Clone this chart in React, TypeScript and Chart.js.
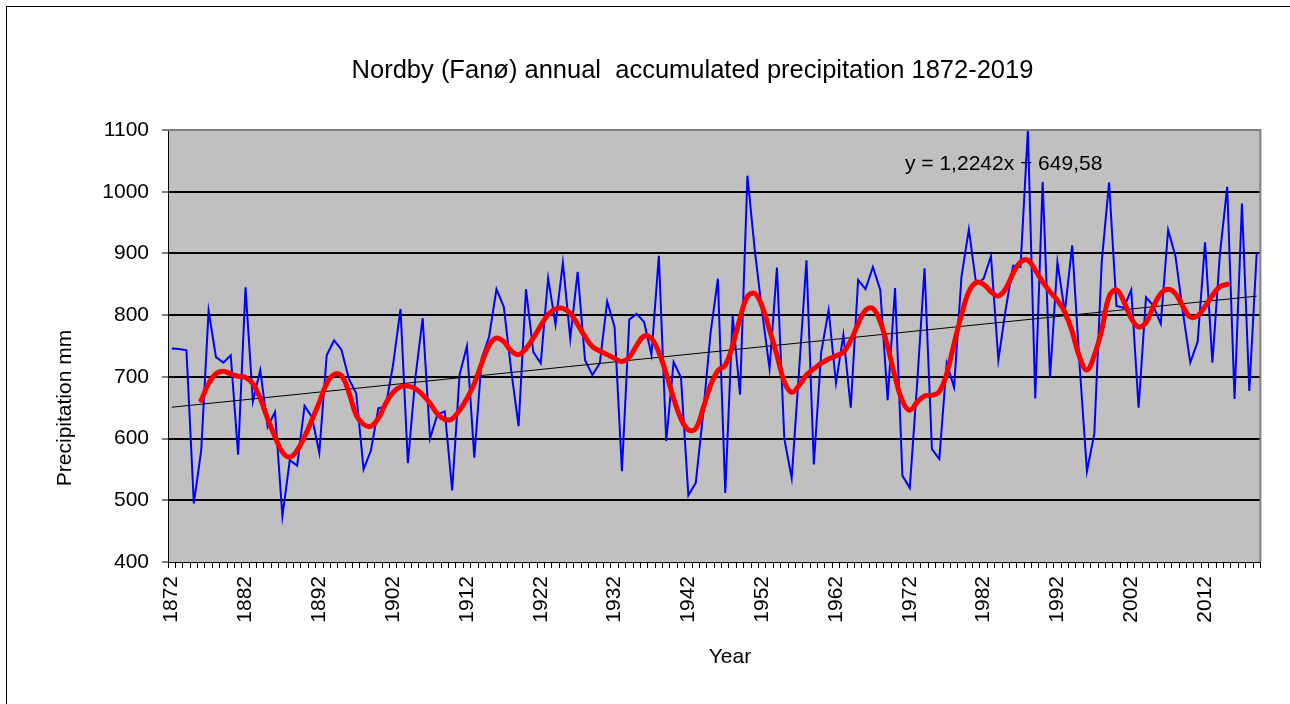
import React, { useEffect, useRef } from "react";
import { Chart, registerables } from "chart.js";

Chart.register(...registerables);

const startYear = 1872;
const yearCount = 148;
const years: string[] = Array.from({ length: yearCount }, (_, i) => String(startYear + i));

const chartTitle = "Nordby (Fanø) annual  accumulated precipitation 1872-2019";
const xAxisTitle = "Year";
const yAxisTitle = "Precipitation mm";
const trendLabel = "y = 1,2242x + 649,58";

// annual precipitation (mm), 1872..2019
const precipitation: number[] = [
  746, 745, 743, 495, 581, 807, 732, 723, 735, 574,
  845, 660, 711, 619, 643, 474, 565, 556, 653, 635,
  577, 735, 759, 744, 697, 673, 550, 581, 649, 652,
  720, 810, 560, 697, 795, 600, 639, 644, 516, 703,
  750, 569, 730, 765, 842, 813, 710, 620, 842, 740,
  722, 860, 785, 885, 762, 870, 727, 703, 722, 822,
  781, 547, 793, 802, 789, 736, 896, 596, 724, 699,
  508, 528, 640, 770, 859, 512, 799, 671, 1026, 905,
  805, 713, 877, 600, 536, 710, 889, 558, 740, 808,
  690, 768, 650, 857, 842, 878, 841, 662, 844, 540,
  520, 690, 876, 583, 567, 722, 683, 862, 939, 850,
  859, 896, 727, 810, 880, 878, 1100, 665, 1016, 699,
  886, 805, 913, 720, 547, 608, 886, 1015, 815, 812,
  841, 650, 829, 815, 786, 938, 895, 805, 723, 757,
  918, 723, 897, 1008, 664, 981, 677, 901,
];

// smoothed (moving average) curve, 1876..2015
const smoothed: number[] = [
  662, 689, 705, 709, 705, 701, 699, 689, 665, 632,
  603, 578, 570, 581, 603, 630, 659, 689, 704, 702,
  675, 638, 623, 620, 633, 657, 675, 684, 685, 681,
  671, 657, 640, 631, 632, 646, 665, 689, 722, 751,
  763, 757, 742, 736, 746, 763, 783, 801, 810, 811,
  803, 785, 765, 749, 742, 736, 730, 725, 732, 751,
  766, 762, 740, 705, 665, 632, 614, 616, 649, 686,
  710, 719, 751, 795, 830, 835, 814, 776, 735, 692,
  675, 686, 703, 713, 722, 729, 734, 740, 759, 786,
  808, 811, 789, 749, 700, 661, 646, 659, 669, 670,
  676, 705, 754, 800, 838, 853, 850, 838, 831, 843,
  868, 886, 889, 873, 854, 838, 824, 805, 773, 732,
  711, 735, 776, 830, 841, 822, 795, 781, 788, 814,
  835, 842, 835, 814, 797, 799, 814, 832, 846, 850,
];
const smoothedStartIndex = 4;

// linear trend end values (first and last year)
const trendStart = 650.8;
const trendEnd = 830.8;

const yMin = 400;
const yMax = 1100;
const yStep = 100;
const labelEvery = 10;

const FONT = "'Liberation Sans', Arial, sans-serif";

export default function App() {
  const ref = useRef<HTMLCanvasElement | null>(null);

  useEffect(() => {
    if (!ref.current) return;

    const smoothedData: (number | null)[] = years.map((_, i) => {
      const k = i - smoothedStartIndex;
      return k >= 0 && k < smoothed.length ? smoothed[k] : null;
    });
    const trendData: (number | null)[] = years.map((_, i) =>
      i === 0 ? trendStart : i === years.length - 1 ? trendEnd : null
    );

    const decor = {
      id: "decor",
      beforeDraw(chart: any) {
        const { ctx, chartArea: a } = chart;
        ctx.save();
        ctx.fillStyle = "#ffffff";
        ctx.fillRect(0, 0, chart.width, chart.height);
        ctx.fillStyle = "#C0C0C0";
        ctx.fillRect(a.left, a.top, a.right - a.left, a.bottom - a.top);
        ctx.strokeStyle = "#000";
        ctx.lineWidth = 1;
        ctx.strokeRect(6.5, 6.5, 1290, 720);
        ctx.fillStyle = "#000";
        ctx.font = `25.5px ${FONT}`;
        ctx.textAlign = "center";
        ctx.textBaseline = "alphabetic";
        ctx.fillText(chartTitle, 692.5, 78);
        ctx.font = `21px ${FONT}`;
        ctx.fillText(xAxisTitle, 730, 663);
        ctx.translate(71, 408);
        ctx.rotate(-Math.PI / 2);
        ctx.fillText(yAxisTitle, 0, 0);
        ctx.restore();
      },
      beforeDatasetsDraw(chart: any) {
        const { ctx } = chart;
        ctx.save();
        ctx.fillStyle = "#000";
        ctx.font = `21px ${FONT}`;
        ctx.textAlign = "left";
        ctx.textBaseline = "alphabetic";
        ctx.fillText(trendLabel, 905, 169.5);
        ctx.restore();
      },
      afterDraw(chart: any) {
        const { ctx, chartArea: a } = chart;
        ctx.save();
        ctx.strokeStyle = "#808080";
        ctx.lineWidth = 2;
        ctx.beginPath();
        ctx.moveTo(a.left, a.top);
        ctx.lineTo(a.right, a.top);
        ctx.lineTo(a.right, a.bottom);
        ctx.stroke();
        ctx.restore();
      },
    };

    const chart = new Chart(ref.current, {
      type: "line",
      data: {
        labels: years,
        datasets: [
          {
            label: "Moving average",
            data: smoothedData,
            borderColor: "#FF0000",
            borderWidth: 5,
            pointRadius: 0,
            tension: 0.4,
            borderCapStyle: "round",
            borderJoinStyle: "round",
            fill: false,
            order: 0,
          },
          {
            label: "Linear trend",
            data: trendData,
            borderColor: "#000000",
            borderWidth: 1,
            pointRadius: 0,
            spanGaps: true,
            fill: false,
            order: 1,
          },
          {
            label: "Precipitation",
            data: precipitation,
            borderColor: "#0000FF",
            borderWidth: 2,
            pointRadius: 0,
            tension: 0,
            fill: false,
            order: 2,
          },
        ],
      },
      options: {
        responsive: false,
        animation: false,
        events: [],
        layout: { padding: { top: 130, right: 28, bottom: 0, left: 0 } },
        plugins: {
          legend: { display: false },
          title: { display: false },
          tooltip: { enabled: false },
        },
        scales: {
          x: {
            type: "category",
            offset: true,
            afterFit: (s: any) => {
              s.height = 142;
            },
            grid: {
              offset: true,
              drawOnChartArea: false,
              drawTicks: true,
              tickLength: 6,
              tickColor: "#000",
              tickWidth: 1,
              color: "#000",
            },
            border: { display: true, color: "#000", width: 1 },
            ticks: {
              autoSkip: false,
              maxRotation: 90,
              minRotation: 90,
              padding: 8,
              color: "#000",
              font: { family: FONT, size: 21 },
              callback: (_v: any, i: number) => (i % labelEvery === 0 ? years[i] : ""),
            },
          },
          y: {
            min: yMin,
            max: yMax,
            afterFit: (s: any) => {
              s.width = 168;
            },
            grid: {
              color: (c: any) =>
                c.tick && (c.tick.value === yMax || c.tick.value === yMin) ? "rgba(0,0,0,0)" : "#000",
              lineWidth: 2,
              drawTicks: true,
              tickLength: 6,
              tickColor: "#000",
              tickWidth: 1,
            },
            border: { display: true, color: "#000", width: 1 },
            ticks: {
              stepSize: yStep,
              padding: 13,
              color: "#000",
              font: { family: FONT, size: 21 },
              callback: (v: any) => String(v),
            },
          },
        },
      },
      plugins: [decor],
    } as any);

    return () => chart.destroy();
  }, []);

  return (
    <canvas
      ref={ref}
      width={1290}
      height={704}
      style={{ display: "block", position: "absolute", left: 0, top: 0 }}
    />
  );
}
